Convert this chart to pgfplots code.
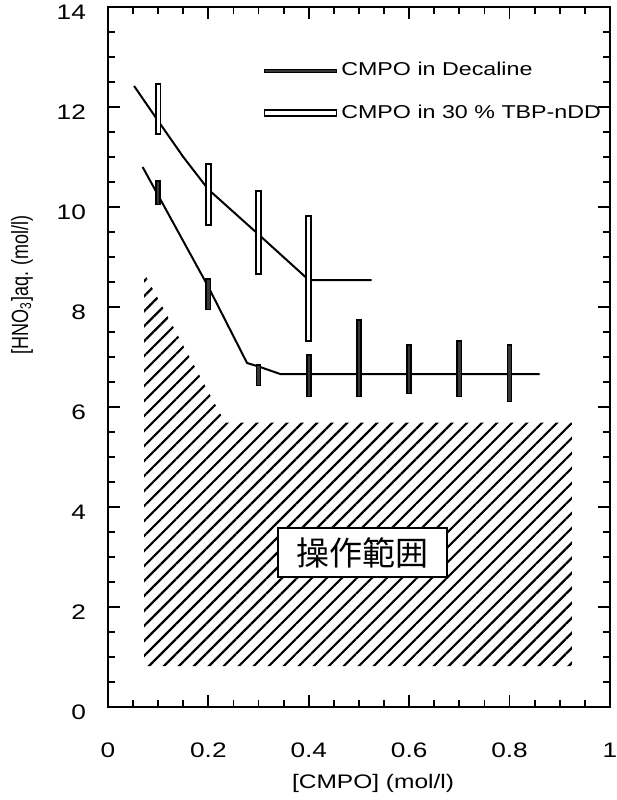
\documentclass[border=0pt]{standalone}
\usepackage{fontspec}
\usepackage{graphicx}
\usepackage{pgfplots}
\usepackage{pgfplotstable}
\pgfplotsset{compat=1.18}
\usetikzlibrary{patterns.meta}
\setmainfont{Liberation Sans}[FakeStretch=1.25]
\newfontfamily\plainsans{Liberation Sans}
\newfontfamily\cjk{Noto Sans CJK JP}

% error bar boxes: x, lower end, upper end
\pgfplotstableread{
x   lo     hi
0.1 10.04 10.54
0.2 7.94  8.58
0.3 6.42  6.86
0.4 6.20  7.06
0.5 6.20  7.76
0.6 6.26  7.26
0.7 6.20  7.34
0.8 6.10  7.26
}\decabars
\pgfplotstableread{
x   lo    hi
0.1 11.44 12.48
0.2 9.62  10.88
0.3 8.64  10.34
0.4 7.30  9.84
}\tbpbars

\begin{document}
\begin{tikzpicture}
  \begin{axis}[
      width=251pt, height=350pt, scale only axis,
      xmin=0, xmax=1, ymin=0, ymax=14,
      xtick={0,0.2,...,1}, ytick={0,2,...,14},
      minor x tick num=3, minor y tick num=3,
      tick pos=both, tick align=inside,
      major tick length=6pt, minor tick length=3.5pt,
      every tick/.style={black, line width=0.9pt},
      axis line style={line width=1.3pt},
      /pgf/number format/assume math mode=true,
      /pgf/number format/fixed,
      ticklabel style={font=\fontsize{10.5}{12}\selectfont},
      x tick label style={yshift=-14.5pt},
      y tick label style={xshift=-7.5pt, yshift=-2.5pt},
      xlabel={[CMPO] (mol/l)},
      xlabel style={font=\fontsize{9.8}{11}\selectfont, at={(axis description cs:0.528,-0.109)}, anchor=center},
      ylabel={\scalebox{1}[1.3]{\plainsans\fontsize{9}{10}\selectfont [HNO\textsubscript{3}]aq. (mol/l)}},
      ylabel style={at={(axis description cs:-0.171,0.603)}, anchor=center},
      legend style={at={(axis cs:0.309,12.98)}, anchor=north west, draw=none, fill=none,
        inner sep=0pt, row sep=9pt, font=\fontsize{9.3}{11}\selectfont, cells={anchor=west}},
    ]
    % operating range (hatched)
    \addplot[draw=none, forget plot, pattern={Lines[angle=45, distance=5.3pt, line width=1.1pt]}]
      coordinates {(0.072,8.68) (0.072,0.82) (0.924,0.82) (0.924,5.69) (0.233,5.69)} -- cycle;

    % fitted lines
    \addplot[black, line width=1pt, forget plot]
      coordinates {(0.069,10.8) (0.2,8.4) (0.277,6.88) (0.303,6.8) (0.343,6.66) (0.86,6.66)};
    \addplot[black, line width=1pt, forget plot]
      coordinates {(0.052,12.42) (0.1,11.72) (0.15,11.0) (0.2,10.35) (0.3,9.45) (0.4,8.54) (0.525,8.54)};

    % CMPO in Decaline
    \addplot[draw=none, mark=none, forget plot,
      error bars/.cd, y dir=plus, y explicit, error mark=none,
      error bar style={draw=black, line width=2.9pt, line cap=butt}]
      table[x=x, y=lo, y error plus expr=\thisrow{hi}-\thisrow{lo}] {\decabars};
    \addplot[draw=none, mark=none, forget plot,
      error bars/.cd, y dir=plus, y explicit, error mark=none,
      error bar style={draw=black!78, line width=1.2pt, line cap=butt}]
      table[x=x, y expr=\thisrow{lo}+0.03, y error plus expr=\thisrow{hi}-\thisrow{lo}-0.06] {\decabars};

    % CMPO in 30 % TBP-nDD
    \addplot[draw=none, mark=none, forget plot,
      error bars/.cd, y dir=plus, y explicit, error mark=none,
      error bar style={draw=black, line width=3.3pt, line cap=butt}]
      table[x=x, y=lo, y error plus expr=\thisrow{hi}-\thisrow{lo}] {\tbpbars};
    \addplot[draw=none, mark=none, forget plot,
      error bars/.cd, y dir=plus, y explicit, error mark=none,
      error bar style={draw=white, line width=1.5pt, line cap=butt}]
      table[x=x, y expr=\thisrow{lo}+0.04, y error plus expr=\thisrow{hi}-\thisrow{lo}-0.08] {\tbpbars};

    \addlegendimage{legend image code/.code={\draw[black, line width=0.5pt, fill=black!78] (0pt,-0.8pt) rectangle (36pt,0.8pt);}}
    \addlegendentry{CMPO in Decaline}
    \addlegendimage{legend image code/.code={\draw[black, line width=0.9pt, fill=white] (0pt,-1.5pt) rectangle (36pt,1.5pt);}}
    \addlegendentry{CMPO in 30 \% TBP-nDD}

    \node[draw=black, line width=1pt, fill=white, minimum width=84.5pt, minimum height=24.5pt,
      inner sep=0pt, font=\cjk\fontsize{16.5}{18}\selectfont] at (axis cs:0.507,3.09) {操作範囲};

    \coordinate (O) at (rel axis cs:0,0);
  \end{axis}
  \pgfresetboundingbox
  \path[use as bounding box] ([shift={(-54pt,-46.5pt)}]O) rectangle ([shift={(254.5pt,353.5pt)}]O);
\end{tikzpicture}
\end{document}
